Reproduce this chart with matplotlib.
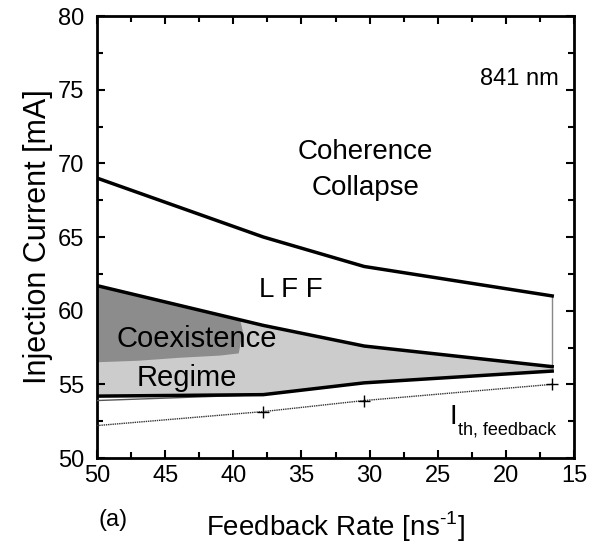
import matplotlib
matplotlib.use("Agg")
import matplotlib.pyplot as plt
from matplotlib.ticker import MultipleLocator

plt.rcParams['font.family'] = ['Liberation Sans', 'DejaVu Sans']
plt.rcParams['mathtext.fontset'] = 'custom'
plt.rcParams['mathtext.rm'] = 'Liberation Sans'

# Data (feedback rate in ns^-1, current in mA)
rate = [50, 37.8, 30.4, 16.6]
cc_boundary = [69.0, 65.0, 63.0, 61.0]          # coherence collapse onset
coex_upper = [61.7, 59.0, 57.6, 56.2]           # upper edge of coexistence
coex_lower = [54.2, 54.3, 55.1, 55.9]           # lower edge of coexistence
thin_lower_rate = [50, 37.8]
thin_lower = [53.9, 54.3]
ith_rate = [50, 37.8, 30.4, 16.6]
ith = [52.2, 53.15, 53.9, 55.0]                  # threshold with feedback

# dark coexistence patch outline
dark_top_rate = [50, 47, 44, 41, 39.5]
dark_top = [61.7, 61.05, 60.4, 59.75, 59.4]
dark_bot_rate = [39.3, 39.6, 41, 44, 47, 50]
dark_bot = [58.6, 57.1, 56.95, 56.8, 56.6, 56.5]

fig = plt.figure(figsize=(6.0, 5.5), dpi=100)
ax = fig.add_axes([97/600, 1-458/550, (574-97)/600, (458-16)/550])

ax.fill_between(rate, coex_lower, coex_upper, color='#cccccc', lw=0, zorder=1)
ax.fill(dark_top_rate + dark_bot_rate, dark_top + dark_bot, color='#8c8c8c', lw=0, zorder=2)

ax.plot(rate, cc_boundary, color='black', lw=2.5, zorder=4)
ax.plot(rate, coex_upper, color='black', lw=2.5, zorder=4)
ax.plot(rate, coex_lower, color='black', lw=2.5, zorder=4)
ax.plot(thin_lower_rate, thin_lower, color='#555555', lw=1.0, zorder=3)
ax.plot([rate[-1], rate[-1]], [coex_upper[-1], cc_boundary[-1]], color='#888888', lw=1.0, zorder=3)
ax.plot(ith_rate, ith, color='#333333', lw=1.0, ls=(0, (1, 0.6)), zorder=3)
ax.plot(ith_rate[1:], ith[1:], ls='none', marker='+', ms=8, mew=1.0, color='black', zorder=5)

ax.set_xlim(50, 15)
ax.set_ylim(50, 80)
ax.xaxis.set_major_locator(MultipleLocator(5))
ax.xaxis.set_minor_locator(MultipleLocator(2.5))
ax.yaxis.set_major_locator(MultipleLocator(5))
ax.yaxis.set_minor_locator(MultipleLocator(2.5))
ax.tick_params(which='both', direction='in', top=True, right=True, width=1.5, labelsize=17)
ax.tick_params(which='major', length=6)
ax.tick_params(which='minor', length=4)
ax.tick_params(axis='x', pad=5)
ax.tick_params(axis='y', pad=9)
for s in ax.spines.values():
    s.set_linewidth(2)

ax.set_xlabel('Feedback Rate [ns$^{\\text{-1}}$]', fontsize=20, labelpad=16)
ax.set_ylabel('Injection Current [mA]', fontsize=22, labelpad=4)

ax.text(19.0, 75.7, '841 nm', fontsize=17, ha='center', va='center')
ax.text(30.3, 70.8, 'Coherence', fontsize=20, ha='center', va='center')
ax.text(30.3, 68.3, 'Collapse', fontsize=20, ha='center', va='center')
ax.text(35.8, 61.4, 'L F F', fontsize=20, ha='center', va='center')
ax.text(42.7, 58.1, 'Coexistence', fontsize=21, ha='center', va='center', zorder=6)
ax.text(43.4, 55.4, 'Regime', fontsize=21, ha='center', va='center', zorder=6)
ax.text(24.1, 52.8, 'I', fontsize=20, ha='left', va='center')
ax.text(23.5, 51.9, 'th, feedback', fontsize=13, ha='left', va='center')

fig.text(113/600, 1-520/550, '(a)', fontsize=17, ha='center', va='center')

fig.savefig('out.png', dpi=100)
